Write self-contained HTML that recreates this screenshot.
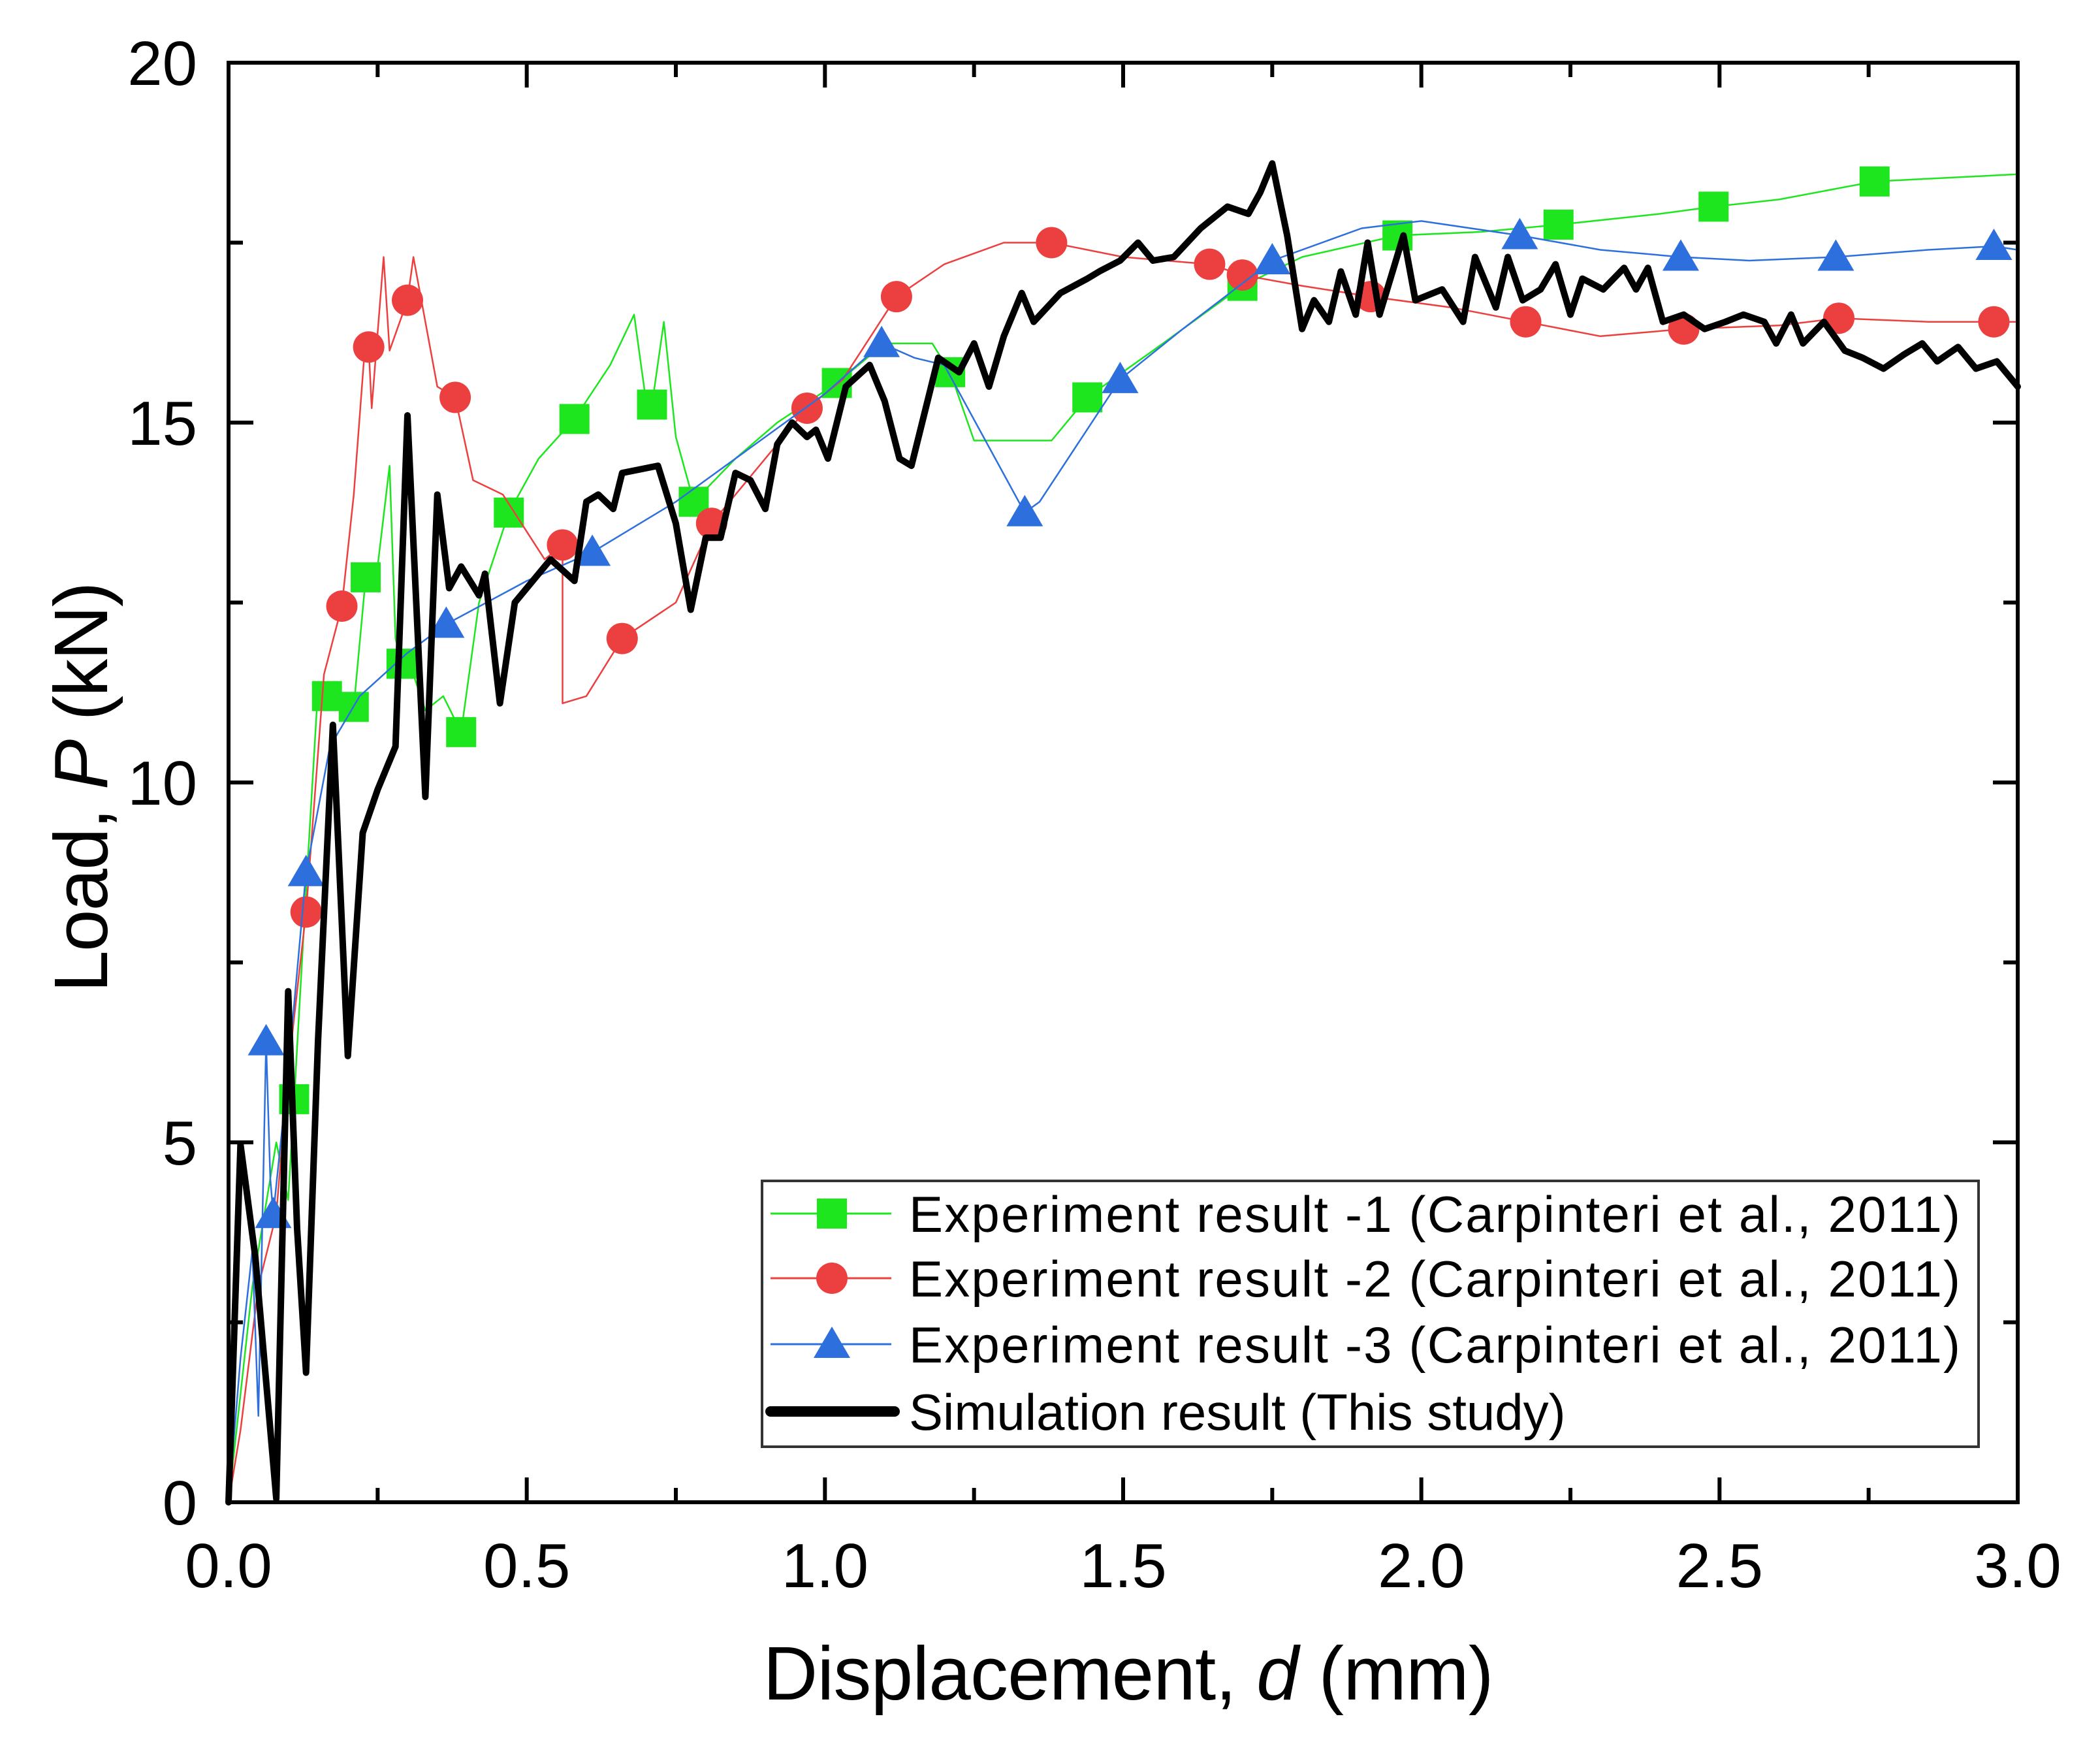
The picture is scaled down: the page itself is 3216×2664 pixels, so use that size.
<!DOCTYPE html>
<html><head><meta charset="utf-8"><style>
html,body{margin:0;padding:0;background:#fff;}
svg{display:block;}
text{font-family:"Liberation Sans",Arial,sans-serif;fill:#000;}
</style></head><body>
<svg id="chart" width="3216" height="2664" viewBox="0 0 3216 2664">
<g id="series"></g>
<g id="axes"></g>
<g id="legend"></g>
</svg>
<script>
// ---- data ----
const xTicks = [0.0, 0.5, 1.0, 1.5, 2.0, 2.5, 3.0];
const xTickLabels = ["0.0","0.5","1.0","1.5","2.0","2.5","3.0"];
const yTicks = [0, 5, 10, 15, 20];
const yTickLabels = ["0","5","10","15","20"];

const exp1LineX = [0,0.02,0.04,0.06,0.08,0.1,0.11,0.13,0.15,0.165,0.19,0.21,0.23,0.25,0.27,0.28,0.29,0.31,0.33,0.36,0.39,0.42,0.47,0.52,0.58,0.64,0.68,0.7,0.71,0.73,0.75,0.78,0.85,0.92,1.02,1.1,1.18,1.21,1.25,1.38,1.44,1.55,1.7,1.8,1.96,2.1,2.23,2.4,2.49,2.6,2.76,3.0];
const exp1LineY = [0,1.5,3,4,5,4.2,5.6,8.5,11.3,11.2,11.0,11.05,12.85,13.0,14.4,12,11.65,11.5,11,11.2,10.7,12.5,13.75,14.5,15.05,15.8,16.5,15.3,15.25,16.4,14.8,13.9,14.5,15,15.55,16.1,16.1,15.7,14.75,14.75,15.35,16.0,16.9,17.3,17.6,17.65,17.75,17.9,18.0,18.1,18.35,18.45];
const exp1MarkX = [0.11,0.165,0.21,0.23,0.29,0.39,0.47,0.58,0.71,0.78,1.02,1.21,1.44,1.7,1.96,2.23,2.49,2.76];
const exp1MarkY = [5.6,11.2,11.05,12.85,11.65,10.7,13.75,15.05,15.25,13.9,15.55,15.7,15.35,16.9,17.6,17.75,18.0,18.35];

const exp2LineX = [0,0.02,0.05,0.08,0.1,0.13,0.16,0.19,0.21,0.23,0.235,0.24,0.26,0.27,0.3,0.31,0.35,0.38,0.41,0.46,0.53,0.56,0.56,0.6,0.66,0.75,0.81,0.9,0.97,1.03,1.12,1.2,1.3,1.38,1.5,1.645,1.7,1.8,1.915,2.05,2.175,2.3,2.44,2.6,2.7,2.85,2.96,3.0];
const exp2LineY = [0,1,3,4,6,8.2,11.5,12.45,14,16.2,16.05,15.2,17.3,16,16.7,17.3,15.5,15.35,14.2,14.0,13.1,13.3,11.1,11.2,12.0,12.5,13.6,14.5,15.2,15.6,16.75,17.2,17.5,17.5,17.3,17.2,17.05,16.9,16.75,16.6,16.4,16.2,16.3,16.35,16.45,16.4,16.4,16.4];
const exp2MarkX = [0.13,0.19,0.235,0.3,0.38,0.56,0.66,0.81,0.97,1.12,1.38,1.645,1.7,1.915,2.175,2.44,2.7,2.96];
const exp2MarkY = [8.2,12.45,16.05,16.7,15.35,13.3,12.0,13.6,15.2,16.75,17.5,17.2,17.05,16.75,16.4,16.3,16.45,16.4];

const exp3LineX = [0,0.02,0.04,0.05,0.063,0.07,0.075,0.1,0.13,0.17,0.22,0.3,0.365,0.5,0.61,0.75,0.9,1.0,1.095,1.15,1.2,1.335,1.36,1.495,1.6,1.75,1.9,2.0,2.165,2.3,2.435,2.55,2.695,2.85,2.96,3.0];
const exp3LineY = [0,2,3.5,1.2,6.4,4.5,4.0,6,8.75,10.5,11.2,11.8,12.2,12.8,13.2,13.9,14.8,15.4,16.1,15.9,15.8,13.75,13.9,15.6,16.3,17.25,17.7,17.8,17.6,17.4,17.3,17.25,17.3,17.4,17.45,17.4];
const exp3MarkX = [0.063,0.075,0.13,0.365,0.61,1.095,1.335,1.495,1.75,2.165,2.435,2.695,2.96];
const exp3MarkY = [6.4,4.0,8.75,12.2,13.2,16.1,13.75,15.6,17.25,17.6,17.3,17.3,17.45];

const simX = [0,0.02,0.045,0.08,0.1,0.115,0.13,0.15,0.175,0.2,0.225,0.25,0.28,0.3,0.33,0.35,0.37,0.39,0.42,0.43,0.455,0.48,0.54,0.58,0.6,0.62,0.645,0.66,0.72,0.75,0.775,0.8,0.825,0.85,0.875,0.9,0.92,0.945,0.97,0.985,1.005,1.035,1.075,1.1,1.125,1.145,1.19,1.225,1.25,1.275,1.3,1.33,1.35,1.395,1.44,1.46,1.495,1.525,1.55,1.585,1.63,1.675,1.71,1.73,1.75,1.775,1.8,1.82,1.845,1.865,1.89,1.91,1.93,1.97,1.99,2.035,2.07,2.09,2.125,2.145,2.17,2.2,2.225,2.25,2.27,2.305,2.34,2.36,2.38,2.405,2.44,2.475,2.51,2.54,2.575,2.595,2.62,2.64,2.675,2.71,2.74,2.775,2.81,2.84,2.865,2.9,2.93,2.965,3.0];
const simY = [0,4.97,3.4,0.05,7.1,3.8,1.8,6.4,10.8,6.2,9.3,9.9,10.5,15.1,9.8,14.0,12.7,13.0,12.6,12.9,11.1,12.5,13.1,12.8,13.9,14.0,13.8,14.3,14.4,13.6,12.4,13.4,13.4,14.3,14.2,13.8,14.7,15.0,14.8,14.9,14.5,15.5,15.8,15.3,14.5,14.4,15.9,15.7,16.1,15.5,16.2,16.8,16.4,16.8,17.0,17.1,17.25,17.5,17.25,17.3,17.7,18.0,17.9,18.2,18.6,17.6,16.3,16.7,16.4,17.1,16.5,17.5,16.5,17.6,16.7,16.85,16.4,17.3,16.6,17.3,16.7,16.85,17.2,16.5,17.0,16.85,17.15,16.85,17.15,16.4,16.5,16.3,16.4,16.5,16.4,16.1,16.5,16.1,16.4,16.0,15.9,15.75,15.95,16.1,15.85,16.05,15.75,15.85,15.5];

const legendLabels = ["Experiment result -1 (Carpinteri et al., 2011)","Experiment result -2 (Carpinteri et al., 2011)","Experiment result -3 (Carpinteri et al., 2011)","Simulation result (This study)"];

// ---- layout ----
const L=350, R=3090, T=96, B=2300;
const xMin=0, xMax=3, yMin=0, yMax=20;
const sx = v => L + (v-xMin)/(xMax-xMin)*(R-L);
const sy = v => B - (v-yMin)/(yMax-yMin)*(B-T);
const NS="http://www.w3.org/2000/svg";
function mk(tag, attrs, parent){const e=document.createElementNS(NS,tag);for(const k in attrs)e.setAttribute(k,attrs[k]);parent.appendChild(e);return e;}

const G="#1ee61e", RD="#ec4040", BL="#2d6fdc";
const series=document.getElementById('series');

function pathD(xs,ys){return xs.map((x,i)=>(i?'L':'M')+sx(x).toFixed(1)+' '+sy(ys[i]).toFixed(1)).join(' ');}
function square(cx,cy,parent,color){return mk('rect',{x:cx-23,y:cy-23,width:46,height:46,fill:color},parent);}
function circle(cx,cy,parent,color){return mk('circle',{cx:cx,cy:cy,r:24,fill:color},parent);}
function tri(cx,cy,parent,color){return mk('polygon',{points:`${cx},${cy-27} ${cx+28},${cy+21} ${cx-28},${cy+21}`,fill:color},parent);}

function drawSeries(name,lx,ly,mx,my,color,shape){
  const g=mk('g',{},series);
  
  
  const p=mk('path',{d:pathD(lx,ly),fill:'none',stroke:color,'stroke-width':2.5,'stroke-linejoin':'round'},g);
  
  
  mx.forEach((x,i)=>{
    const m=shape(sx(x),sy(my[i]),g,color);
    
    
  });
}
drawSeries('experiment-1',exp1LineX,exp1LineY,exp1MarkX,exp1MarkY,G,square);
drawSeries('experiment-2',exp2LineX,exp2LineY,exp2MarkX,exp2MarkY,RD,circle);
drawSeries('experiment-3',exp3LineX,exp3LineY,exp3MarkX,exp3MarkY,BL,tri);
const sim=mk('path',{d:pathD(simX,simY),fill:'none',stroke:'#000','stroke-width':10,'stroke-linejoin':'round','stroke-linecap':'round'},series);



// ---- axes ----
const axes=document.getElementById('axes');
const frame=mk('rect',{x:L,y:T,width:R-L,height:B-T,fill:'none',stroke:'#000','stroke-width':6},axes);


const tk={stroke:'#000','stroke-width':6};
xTicks.forEach((v,i)=>{
  const x=sx(v);
  mk('line',Object.assign({x1:x,y1:B,x2:x,y2:B-38},tk),axes);
  mk('line',Object.assign({x1:x,y1:T,x2:x,y2:T+38},tk),axes);
  if(i<xTicks.length-1){const xm=sx(v+0.25);
    mk('line',Object.assign({x1:xm,y1:B,x2:xm,y2:B-22},tk),axes);
    mk('line',Object.assign({x1:xm,y1:T,x2:xm,y2:T+22},tk),axes);}
  const t=mk('text',{x:x,y:2430,'font-size':96,'text-anchor':'middle'},axes);
  t.textContent=xTickLabels[i];
  
  
});
yTicks.forEach((v,i)=>{
  const y=sy(v);
  mk('line',Object.assign({x1:L,y1:y,x2:L+38,y2:y},tk),axes);
  mk('line',Object.assign({x1:R,y1:y,x2:R-38,y2:y},tk),axes);
  if(i<yTicks.length-1){const ym=sy(v+2.5);
    mk('line',Object.assign({x1:L,y1:ym,x2:L+22,y2:ym},tk),axes);
    mk('line',Object.assign({x1:R,y1:ym,x2:R-22,y2:ym},tk),axes);}
  const t=mk('text',{x:302,y:y+34,'font-size':96,'text-anchor':'end'},axes);
  t.textContent=yTickLabels[i];
  
  
});
const xt=mk('text',{x:1728,y:2602,'font-size':116,'text-anchor':'middle',textLength:1119},axes);
xt.innerHTML='Displacement, <tspan font-style="italic">d</tspan> (mm)';


const yt=mk('text',{x:0,y:0,'font-size':116,'text-anchor':'middle',transform:'translate(164,1205) rotate(-90)',textLength:629},axes);
yt.innerHTML='Load, <tspan font-style="italic">P</tspan> (kN)';



// ---- legend ----
const lg=document.getElementById('legend');
const box=mk('rect',{x:1167,y:1808,width:1863,height:407,fill:'#fff',stroke:'#333','stroke-width':4},lg);


const rowsY=[1858,1957,2058,2161];
const cols=[G,RD,BL,'#000'];
const shapes=[square,circle,tri,null];
legendLabels.forEach((lab,i)=>{
  const g=mk('g',{},lg);
  
  
  const y=rowsY[i];
  if(shapes[i]){mk('line',{x1:1180,y1:y,x2:1365,y2:y,stroke:cols[i],'stroke-width':3},g);shapes[i](1274,y,g,cols[i]);}
  else mk('line',{x1:1180,y1:y,x2:1370,y2:y,stroke:'#000','stroke-width':16,'stroke-linecap':'round'},g);
  const t=mk('text',{x:1392,y:y+28,'font-size':78},g);
  if(i<3) t.setAttribute('textLength',1610);
  t.textContent=lab;
});
</script>
</body></html>
